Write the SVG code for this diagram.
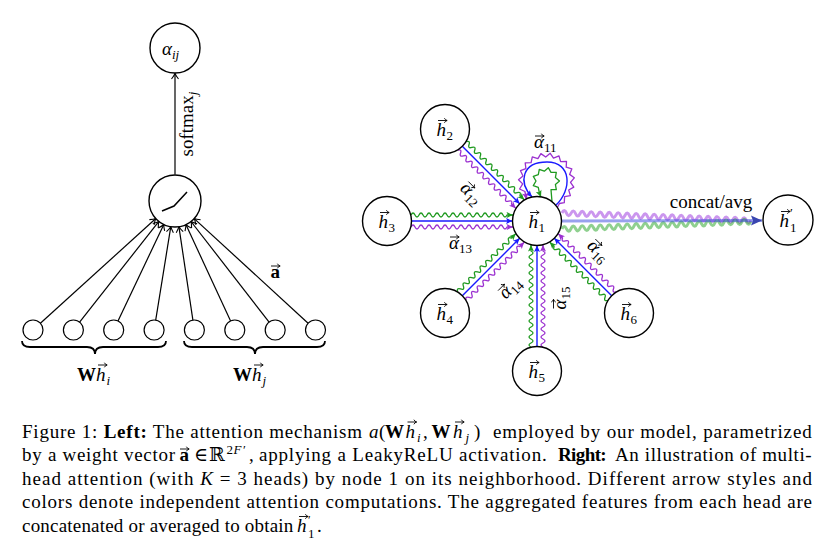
<svg xmlns="http://www.w3.org/2000/svg" width="826" height="548" viewBox="0 0 826 548">
<style>
.nd{fill:#fff;stroke:#000;stroke-width:1.4}
.sm{fill:#fff;stroke:#000;stroke-width:1.2}
.lbl{font-family:"Liberation Serif","DejaVu Serif",serif;font-size:19px;fill:#000}
.cap{font-family:"Liberation Serif","DejaVu Serif",serif;font-size:19px;fill:#000}
.it{font-style:italic}
.bf{font-weight:bold}
.k{stroke:#000;fill:none;stroke-width:1.2}
.b{stroke:#1a1aff;fill:none;stroke-width:1.4}
.g{stroke:#1f9a1f;fill:none;stroke-width:1.3;stroke-linejoin:round}
.p{stroke:#9b30d0;fill:none;stroke-width:1.3;stroke-linejoin:round}
.cb{stroke:#3344dd;stroke-opacity:0.5;fill:none;stroke-width:3.2}
.cg{stroke:#33aa33;stroke-opacity:0.55;fill:none;stroke-width:3}
.cp{stroke:#a040e0;stroke-opacity:0.55;fill:none;stroke-width:3}
</style>
<defs>
<path id="vec" d="M0,0 H9 M6.4,-2.3 Q7.2,-0.5 9.2,0 Q7.2,0.5 6.4,2.3" fill="none" stroke="#000" stroke-width="0.9"/>
<marker id="mK" viewBox="-8 -5 10 10" refX="0" refY="0" markerWidth="10" markerHeight="10" markerUnits="userSpaceOnUse" orient="auto"><path d="M-5.5,-3.5 Q-2,-0.8 0,0 Q-2,0.8 -5.5,3.5" fill="none" stroke="#000" stroke-width="1.1"/></marker>
<marker id="mB" viewBox="-8 -4 9 8" refX="0" refY="0" markerWidth="9" markerHeight="8" markerUnits="userSpaceOnUse" orient="auto"><path d="M-6.5,-3 L0,0 L-6.5,3 L-5,0 z" fill="#1a1aff"/></marker>
<marker id="mG" viewBox="-8 -4 9 8" refX="0" refY="0" markerWidth="9" markerHeight="8" markerUnits="userSpaceOnUse" orient="auto"><path d="M-6.5,-3 L0,0 L-6.5,3 L-5,0 z" fill="#1f9a1f"/></marker>
<marker id="mP" viewBox="-8 -4 9 8" refX="0" refY="0" markerWidth="9" markerHeight="8" markerUnits="userSpaceOnUse" orient="auto"><path d="M-6.5,-3 L0,0 L-6.5,3 L-5,0 z" fill="#9b30d0"/></marker>
<marker id="mBig" viewBox="-13 -6 14 12" refX="0" refY="0" markerWidth="14" markerHeight="12" markerUnits="userSpaceOnUse" orient="auto"><path d="M-11,-5 L0,0 L-11,5 L-9,0 z" fill="#3946b0"/></marker>
<path id="wg150" d="M24,-6 q2,-4 4,0 t4,0 t4,0 t4,0 t4,0 t4,0 t4,0 t4,0 t4,0 t4,0 t4,0 t4,0 t4,0 t4,0 t4,0 t4,0 t4,0 t4,0 t4,0 t4,0 t4,0 t4,0 t4,0 t4,0 L126,-6"/>
<path id="wp150" d="M24,6 q2,-4 4,0 t4,0 t4,0 t4,0 t4,0 t4,0 t4,0 t4,0 t4,0 t4,0 t4,0 t4,0 t4,0 t4,0 t4,0 t4,0 t4,0 t4,0 t4,0 t4,0 t4,0 t4,0 t4,0 t4,0 L126,6"/>
<path id="wg130" d="M24,-6 q2,-4 4,0 t4,0 t4,0 t4,0 t4,0 t4,0 t4,0 t4,0 t4,0 t4,0 t4,0 t4,0 t4,0 t4,0 t4,0 t4,0 t4,0 t4,0 t4,0 L106,-6"/>
<path id="wp130" d="M24,6 q2,-4 4,0 t4,0 t4,0 t4,0 t4,0 t4,0 t4,0 t4,0 t4,0 t4,0 t4,0 t4,0 t4,0 t4,0 t4,0 t4,0 t4,0 t4,0 t4,0 L106,6"/>
<path id="wc" d="M0,0 q2.25,-5 4.5,0 t4.5,0 t4.5,0 t4.5,0 t4.5,0 t4.5,0 t4.5,0 t4.5,0 t4.5,0 t4.5,0 t4.5,0 t4.5,0 t4.5,0 t4.5,0 t4.5,0 t4.5,0 t4.5,0 t4.5,0 t4.5,0 t4.5,0 t4.5,0 t4.5,0 t4.5,0 t4.5,0 t4.5,0 t4.5,0 t4.5,0 t4.5,0 t4.5,0 t4.5,0 t4.5,0 t4.5,0 t4.5,0 t4.5,0 t4.5,0 t4.5,0 t4.5,0 t4.5,0 t4.5,0 t4.5,0 t4.5,0 t4.5,0"/>
</defs>
<rect width="826" height="548" fill="#fff"/>

<g id="connectors">
  <!-- left: inputs to activation -->
  <path class="k" marker-end="url(#mK)" d="M40.4,323.3 L155.8,218.5"/>
  <path class="k" marker-end="url(#mK)" d="M79.6,322.1 L158.9,221.4"/>
  <path class="k" marker-end="url(#mK)" d="M118,321 L163.8,224.5"/>
  <path class="k" marker-end="url(#mK)" d="M155.7,320.1 L170.8,226.7"/>
  <path class="k" marker-end="url(#mK)" d="M192.9,320.1 L178.9,226.7"/>
  <path class="k" marker-end="url(#mK)" d="M230.6,320.9 L185.9,224.6"/>
  <path class="k" marker-end="url(#mK)" d="M269.1,322.1 L191,221.5"/>
  <path class="k" marker-end="url(#mK)" d="M308.1,323.2 L194.2,218.6"/>
  <path class="k" marker-end="url(#mK)" d="M175,174.5 L175,73.5"/>
  <text class="lbl" transform="translate(193,124) rotate(-90)" text-anchor="middle">softmax<tspan class="it" font-size="13" dy="4">j</tspan></text>
  <text class="lbl bf" x="270.5" y="278">a</text><use href="#vec" x="271" y="266"/>

  <!-- right: neighbour edges -->
  <g id="e21" transform="translate(445,129) rotate(45)">
    <path class="b" marker-end="url(#mB)" d="M24.5,0 L105.6,0"/>
    <use href="#wg130" class="g" marker-end="url(#mG)"/>
    <use href="#wp130" class="p" marker-end="url(#mP)"/>
  </g>
  <g id="e31" transform="translate(387,221)">
    <path class="b" marker-end="url(#mB)" d="M24.5,0 L125.5,0"/>
    <use href="#wg150" class="g" marker-end="url(#mG)"/>
    <use href="#wp150" class="p" marker-end="url(#mP)"/>
  </g>
  <g id="e41" transform="translate(445,313) rotate(-45)">
    <path class="b" marker-end="url(#mB)" d="M24.5,0 L105.6,0"/>
    <use href="#wg130" class="g" marker-end="url(#mG)"/>
    <use href="#wp130" class="p" marker-end="url(#mP)"/>
  </g>
  <g id="e51" transform="translate(537,371) rotate(-90)">
    <path class="b" marker-end="url(#mB)" d="M24.5,0 L125.5,0"/>
    <use href="#wg150" class="g" marker-end="url(#mG)"/>
    <use href="#wp150" class="p" marker-end="url(#mP)"/>
  </g>
  <g id="e61" transform="translate(629,313) rotate(-135)">
    <path class="b" marker-end="url(#mB)" d="M24.5,0 L105.6,0"/>
    <use href="#wg130" class="g" marker-end="url(#mG)"/>
    <use href="#wp130" class="p" marker-end="url(#mP)"/>
  </g>
  <!-- self loops -->
  <path class="b" marker-end="url(#mB)" d="M556,205 C572,190 572,162 547,162 C522,162 518,182 532,197"/>
  <path class="g" marker-end="url(#mG)" d="M552,201.6 L551,189.7 L556.3,189.7 L555.4,184.4 L559.5,181 L555.4,177.6 L556.3,172.3 L551,172.3 L548.3,167.7 L544.3,171.2 L539.3,169.3 L538.3,174.6 L533.3,176.4 L536,181 L533.3,185.6 L538.3,187.4 L539.3,192.7 L541,197"/>
  <path class="p" marker-end="url(#mP)" d="M557,208 L559.5,203.5 L564.3,202.6 L564.6,196.7 L570.4,195.6 L568.7,190 L573.8,187.1 L570.5,182.3 L574.3,177.8 L569.6,174.4 L571.8,168.9 L566.2,167.2 L566.5,161.4 L560.6,161.6 L559,155.9 L553.5,158.1 L550.2,153.3 L545.7,157 L540.9,153.6 L537.9,158.6 L532.3,156.9 L531.1,162.6 L525.2,162.8 L525.9,168.6 L520.5,170.7 L523,176 L518.5,179.8 L522.7,183.9 L519.6,189 L524.9,191.5 L526.5,199.5"/>
  <!-- concat / avg -->
  <use href="#wc" class="cp" transform="translate(562,213) rotate(2.26)"/>
  <use href="#wc" class="cg" transform="translate(562,229) rotate(-2.26)"/>
  <path class="cb" marker-end="url(#mBig)" d="M561.5,221 L762,220.5"/>
  <text class="lbl" x="711" y="208" text-anchor="middle">concat/avg</text>
  <!-- edge labels -->
  <g id="lab11" transform="translate(546,144)"><text class="lbl" x="-12" y="4"><tspan class="it">α</tspan><tspan font-size="13" dy="4">11</tspan></text><use href="#vec" x="-11" y="-8"/></g>
  <g id="lab12" transform="translate(470.5,195) rotate(45)"><text class="lbl" x="-12" y="4"><tspan class="it">α</tspan><tspan font-size="13" dy="4">12</tspan></text><use href="#vec" x="-11" y="-8"/></g>
  <g id="lab13" transform="translate(461,245)"><text class="lbl" x="-12" y="4"><tspan class="it">α</tspan><tspan font-size="13" dy="4">13</tspan></text><use href="#vec" x="-11" y="-8"/></g>
  <g id="lab14" transform="translate(511.5,288.5) rotate(-45)"><text class="lbl" x="-12" y="4"><tspan class="it">α</tspan><tspan font-size="13" dy="4">14</tspan></text><use href="#vec" x="-11" y="-8"/></g>
  <g id="lab15" transform="translate(561.5,297.5) rotate(-90)"><text class="lbl" x="-12" y="4"><tspan class="it">α</tspan><tspan font-size="13" dy="4">15</tspan></text><use href="#vec" x="-11" y="-8"/></g>
  <g id="lab16" transform="translate(597.5,252.5) rotate(45)"><text class="lbl" x="-12" y="4"><tspan class="it">α</tspan><tspan font-size="13" dy="4">16</tspan></text><use href="#vec" x="-11" y="-8"/></g>
</g>

<!-- left nodes -->
<g id="alpha-ij"><circle class="nd" cx="175" cy="48" r="25"/><text class="lbl it" x="162" y="54.5">α<tspan font-size="13" dy="4">ij</tspan></text></g>
<g id="activation"><circle class="nd" cx="175" cy="201" r="26"/><path d="M162,211 L174,206 L187,192" fill="none" stroke="#000" stroke-width="1.5"/></g>
<g id="in1"><circle class="sm" cx="33" cy="330" r="10"/></g>
<g id="in2"><circle class="sm" cx="73.4" cy="330" r="10"/></g>
<g id="in3"><circle class="sm" cx="113.7" cy="330" r="10"/></g>
<g id="in4"><circle class="sm" cx="154.1" cy="330" r="10"/></g>
<g id="in5"><circle class="sm" cx="194.4" cy="330" r="10"/></g>
<g id="in6"><circle class="sm" cx="234.8" cy="330" r="10"/></g>
<g id="in7"><circle class="sm" cx="275.2" cy="330" r="10"/></g>
<g id="in8"><circle class="sm" cx="315.5" cy="330" r="10"/></g>
<g id="braces" fill="none" stroke="#000" stroke-width="1.8">
  <path d="M22,341 Q22,347 30,347 L87,347 Q95,347 95,354 Q95,347 103,347 L158,347 Q166,347 166,341"/>
  <path d="M184,341 Q184,347 192,347 L247,347 Q255,347 255,354 Q255,347 263,347 L317,347 Q325,347 325,341"/>
</g>
<g id="label-Whi"><text class="lbl" x="77" y="380.5"><tspan class="bf">W</tspan><tspan class="it">h</tspan><tspan class="it" font-size="13" dx="1" dy="4">i</tspan></text><use href="#vec" x="98" y="365"/></g>
<g id="label-Whj"><text class="lbl" x="233" y="380.5"><tspan class="bf">W</tspan><tspan class="it">h</tspan><tspan class="it" font-size="13" dx="1" dy="4">j</tspan></text><use href="#vec" x="254" y="365"/></g>

<!-- right nodes -->
<g id="h1"><circle class="nd" cx="537" cy="221" r="24.5"/><text class="lbl" x="528.5" y="228"><tspan class="it">h</tspan><tspan font-size="13" dx="0.5" dy="4">1</tspan></text><use href="#vec" x="530" y="212.5"/></g>
<g id="h2"><circle class="nd" cx="445" cy="129" r="24.5"/><text class="lbl" x="436.5" y="136"><tspan class="it">h</tspan><tspan font-size="13" dx="0.5" dy="4">2</tspan></text><use href="#vec" x="438" y="120.5"/></g>
<g id="h3"><circle class="nd" cx="387" cy="221" r="24.5"/><text class="lbl" x="378.5" y="228"><tspan class="it">h</tspan><tspan font-size="13" dx="0.5" dy="4">3</tspan></text><use href="#vec" x="380" y="212.5"/></g>
<g id="h4"><circle class="nd" cx="445" cy="313" r="24.5"/><text class="lbl" x="436.5" y="320"><tspan class="it">h</tspan><tspan font-size="13" dx="0.5" dy="4">4</tspan></text><use href="#vec" x="438" y="304.5"/></g>
<g id="h5"><circle class="nd" cx="537" cy="371" r="24.5"/><text class="lbl" x="528.5" y="378"><tspan class="it">h</tspan><tspan font-size="13" dx="0.5" dy="4">5</tspan></text><use href="#vec" x="530" y="362.5"/></g>
<g id="h6"><circle class="nd" cx="629" cy="313" r="24.5"/><text class="lbl" x="620.5" y="320"><tspan class="it">h</tspan><tspan font-size="13" dx="0.5" dy="4">6</tspan></text><use href="#vec" x="622" y="304.5"/></g>
<g id="h1prime"><circle class="nd" cx="788" cy="220" r="25"/><text class="lbl" x="779.5" y="227"><tspan class="it">h</tspan><tspan font-size="13" x="790" dy="-10">′</tspan><tspan font-size="13" x="790" dy="15">1</tspan></text><use href="#vec" x="781" y="211.5"/></g>

<!-- caption -->
<g id="caption">
<text class="cap" x="22" y="437.5" textLength="340" lengthAdjust="spacing">Figure 1: <tspan class="bf">Left:</tspan> The attention mechanism</text>
<text class="cap" y="437.5"><tspan class="it" x="369">a</tspan><tspan x="379">(</tspan><tspan class="bf" x="385">W</tspan><tspan class="it" x="405.5">h</tspan><tspan class="it" font-size="13" x="417" dy="4">i</tspan><tspan x="423" dy="-4">,</tspan><tspan class="bf" x="431.5">W</tspan><tspan class="it" x="453">h</tspan><tspan class="it" font-size="13" x="465.5" dy="4">j</tspan><tspan x="474" dy="-4">)</tspan></text>
<use href="#vec" x="407.5" y="422"/><use href="#vec" x="455" y="422"/>
<text class="cap" x="493" y="437.5" textLength="318.7" lengthAdjust="spacing">employed by our model, parametrized</text>

<text class="cap" x="22" y="461" textLength="153" lengthAdjust="spacing">by a weight vector</text>
<text class="cap" y="461"><tspan class="bf" x="179.5">a</tspan><tspan x="194">∈</tspan><tspan x="209">ℝ</tspan><tspan font-size="13" x="226.5" dy="-7">2</tspan><tspan class="it" font-size="13" x="233.5">F</tspan><tspan font-size="13" x="243">′</tspan><tspan x="249" dy="7">,</tspan></text>
<use href="#vec" x="180" y="449"/>
<text class="cap" x="259" y="461" textLength="287.7" lengthAdjust="spacing">applying a LeakyReLU activation.</text>
<text class="cap bf" x="558" y="461" textLength="48.7" lengthAdjust="spacing">Right:</text>
<text class="cap" x="615" y="461" textLength="196.7" lengthAdjust="spacing">An illustration of multi-</text>

<text class="cap" x="22" y="484.7" textLength="790" lengthAdjust="spacing">head attention (with <tspan class="it">K</tspan> = 3 heads) by node 1 on its neighborhood. Different arrow styles and</text>
<text class="cap" x="22" y="508.3" textLength="790" lengthAdjust="spacing">colors denote independent attention computations. The aggregated features from each head are</text>

<text class="cap" x="22" y="531.9" textLength="271.3" lengthAdjust="spacing">concatenated or averaged to obtain</text>
<text class="cap" y="531.9"><tspan class="it" x="297">h</tspan><tspan font-size="12" x="308" dy="-8">′</tspan><tspan font-size="13" x="308" dy="14.5">1</tspan><tspan x="317" dy="-6.5">.</tspan></text>
<use href="#vec" x="299" y="516.5"/>
</g>
</svg>
